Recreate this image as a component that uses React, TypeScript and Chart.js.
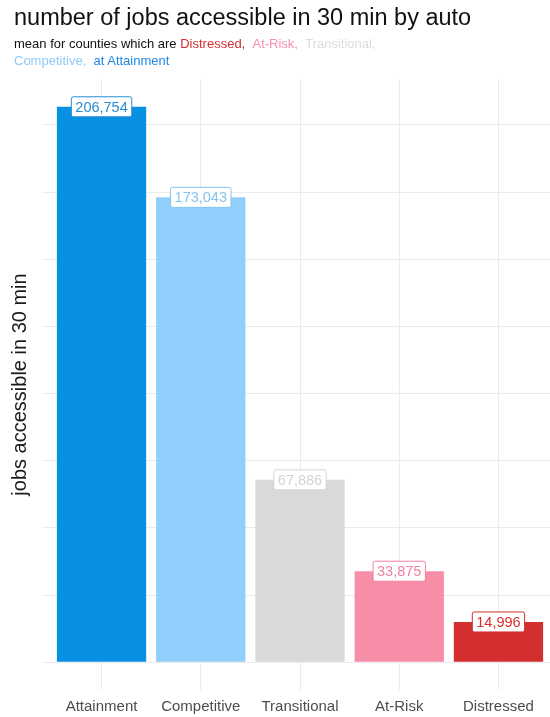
import React, { useEffect, useRef } from "react";
import { Chart, registerables } from "chart.js";

Chart.register(...registerables);

const categories = ["Attainment", "Competitive", "Transitional", "At-Risk", "Distressed"];
const jobs = [206754, 173043, 67886, 33875, 14996];
const barColors = ["#0891e2", "#90cffb", "#d9d9d9", "#f78ea8", "#d32f2f"];
const labelColors = ["#2a8dd2", "#86c3ee", "#d4d4d4", "#f083a0", "#d32f2f"];
const yGridTicks = [0, 25000, 50000, 75000, 100000, 125000, 150000, 175000, 200000];

const FONT = "'Liberation Sans', Arial, Helvetica, sans-serif";

const barLabelPlugin = {
  id: "barLabels",
  afterDatasetsDraw(chart: any) {
    const ctx = chart.ctx;
    const meta = chart.getDatasetMeta(0);
    ctx.save();
    ctx.font = `14.5px ${FONT}`;
    ctx.textAlign = "center";
    ctx.textBaseline = "middle";
    meta.data.forEach((el: any, i: number) => {
      const text = jobs[i].toLocaleString("en-US");
      const w = ctx.measureText(text).width + 8;
      const h = 20;
      const x = el.x - w / 2;
      const y = el.y - h / 2;
      ctx.beginPath();
      if (ctx.roundRect) ctx.roundRect(x, y, w, h, 2);
      else ctx.rect(x, y, w, h);
      ctx.fillStyle = "#ffffff";
      ctx.fill();
      ctx.lineWidth = 1;
      ctx.strokeStyle = labelColors[i];
      ctx.stroke();
      ctx.fillStyle = labelColors[i];
      ctx.fillText(text, el.x, el.y + 1);
    });
    ctx.restore();
  },
};

export default function App() {
  const canvasRef = useRef<HTMLCanvasElement | null>(null);

  useEffect(() => {
    document.body.style.margin = "0";
    document.body.style.overflow = "hidden";
    const canvas = canvasRef.current;
    if (!canvas) return;
    const range = jobs[0];
    const chart = new Chart(canvas, {
      type: "bar",
      data: {
        datasets: [
          {
            data: jobs.map((v, i) => ({ x: i, y: v })),
            backgroundColor: barColors,
            borderWidth: 0,
            barPercentage: 0.9,
            categoryPercentage: 1.0,
          },
        ],
      },
      options: {
        animation: false,
        responsive: false,
        maintainAspectRatio: false,
        layout: { padding: { top: 79, left: 0, right: 0, bottom: 0 } },
        plugins: {
          legend: { display: false },
          tooltip: { enabled: false },
          title: { display: false },
        },
        scales: {
          x: {
            type: "linear",
            min: -0.6,
            max: 4.6,
            offset: false,
            afterBuildTicks: (scale: any) => {
              scale.ticks = categories.map((_, i) => ({ value: i }));
            },
            afterFit: (scale: any) => {
              scale.height = 27;
            },
            ticks: {
              autoSkip: false,
              maxRotation: 0,
              padding: 8,
              color: "#4d4d4d",
              font: { family: FONT, size: 15 },
              callback: (v: any) => categories[v as number] ?? "",
            },
            grid: { color: "#ebebeb", lineWidth: 1, drawTicks: false, offset: false },
            border: { display: false },
          },
          y: {
            min: -range * 0.05,
            max: range * 1.05,
            afterBuildTicks: (scale: any) => {
              scale.ticks = yGridTicks.map((v) => ({ value: v }));
            },
            afterFit: (scale: any) => {
              scale.width = 42;
            },
            ticks: { display: false },
            grid: { color: "#ebebeb", lineWidth: 1, drawTicks: false },
            border: { display: false },
            title: {
              display: true,
              text: "jobs accessible in 30 min",
              color: "#1a1a1a",
              font: { family: FONT, size: 20 },
              padding: { top: 8, bottom: 0 },
            },
          },
        },
      },
      plugins: [barLabelPlugin],
    });
    return () => chart.destroy();
  }, []);

  return (
    <div style={{ position: "absolute", left: 0, top: 0, width: 558, height: 717, fontFamily: FONT }}>
      <canvas ref={canvasRef} width={558} height={717} style={{ position: "absolute", left: 0, top: 0 }} />
      <div
        style={{
          position: "absolute",
          left: 14,
          top: 3,
          fontSize: 23.5,
          color: "#111",
          whiteSpace: "nowrap",
          lineHeight: "28px",
        }}
      >
        number of jobs accessible in 30 min by auto
      </div>
      <div
        style={{
          position: "absolute",
          left: 14,
          top: 36,
          fontSize: 13,
          lineHeight: "16.5px",
          color: "#111",
          whiteSpace: "nowrap",
        }}
      >
        <div>
          mean for counties which are <span style={{ color: "#d32f2f" }}>Distressed,</span>
          {"\u00a0\u00a0"}
          <span style={{ color: "#f48fb1" }}>At-Risk,</span>
          {"\u00a0\u00a0"}
          <span style={{ color: "#dcdcdc" }}>Transitional,</span>
        </div>
        <div>
          <span style={{ color: "#90caf9" }}>Competitive,</span>
          {"\u00a0\u00a0"}
          <span style={{ color: "#1e88e5" }}>at Attainment</span>
        </div>
      </div>
    </div>
  );
}
